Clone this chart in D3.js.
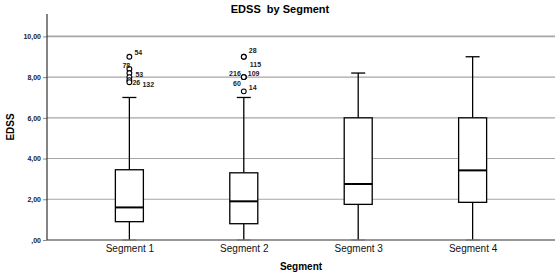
<!DOCTYPE html>
<html>
<head>
<meta charset="utf-8">
<script src="https://cdn.jsdelivr.net/npm/d3@7"></script>
<style>
  body { margin: 0; background: #fff; }
  text { font-family: "Liberation Sans", Arial, sans-serif; }
</style>
</head>
<body>
<svg id="chart" width="560" height="274"></svg>
<script>
// chart data
var segments = ['Segment 1', 'Segment 2', 'Segment 3', 'Segment 4'];
var lowWhisker = [0, 0, 0, 0];
var q1 = [0.9, 0.8, 1.75, 1.85];
var median = [1.6, 1.9, 2.75, 3.42];
var q3 = [3.45, 3.3, 6.0, 6.0];
var highWhisker = [7.0, 7.0, 8.2, 9.0];
var yTicks = [0, 2, 4, 6, 8, 10];

// outliers: segment, value, case id ('' = no label)
var outSegment = ['Segment 1', 'Segment 1', 'Segment 1', 'Segment 1', 'Segment 1', 'Segment 1',
  'Segment 2', 'Segment 2', 'Segment 2', 'Segment 2', 'Segment 2', 'Segment 2'];
var outValue = [9.0, 8.4, 8.2, 8.0, 7.85, 7.75,
  9.0, 9.0, 8.0, 8.0, 8.0, 7.3];
var outId = ['54', '78', '53', '', '26', '132',
  '28', '115', '216', '109', '60', '14'];

// label placement for the case ids (dx, dy, anchor)
var labelPos = [[5, -4, 'start'], [-7, -3, 'start'], [6, 2, 'start'], [0, 0, 'start'], [3, 2, 'start'], [13, 2, 'start'],
  [5, -6, 'start'], [6, 8, 'start'], [-3, -4, 'end'], [4, -4, 'start'], [-3, 6, 'end'], [5, -4, 'start']];

InitChart();

function InitChart() {
  var svg = d3.select('#chart'),
    MARGINS = { top: 14, right: 5, bottom: 34, left: 47 },
    WIDTH = 560,
    HEIGHT = 274;

  var xRange = d3.scalePoint()
    .domain(segments)
    .range([MARGINS.left, WIDTH - MARGINS.right])
    .padding(0.72);

  var yRange = d3.scaleLinear()
    .domain([0, 11.1])
    .range([HEIGHT - MARGINS.bottom, MARGINS.top]);

  // grid lines
  svg.append('g')
    .selectAll('line')
    .data(yTicks.filter(function(d) { return d > 0; }))
    .enter()
    .append('line')
    .attr('x1', MARGINS.left)
    .attr('x2', WIDTH - MARGINS.right)
    .attr('y1', function(d) { return yRange(d); })
    .attr('y2', function(d) { return yRange(d); })
    .attr('stroke', '#a6a6a6')
    .attr('stroke-width', function(d) { return d === 10 ? 1.6 : 1.1; });

  // y axis
  var yAxis = d3.axisLeft(yRange)
    .tickValues(yTicks)
    .tickSize(4)
    .tickPadding(2)
    .tickFormat(function(d) { return d === 0 ? ',00' : d.toFixed(2).replace('.', ','); });

  var gy = svg.append('g')
    .attr('transform', 'translate(' + MARGINS.left + ',0)')
    .call(yAxis);
  gy.select('.domain').remove();
  gy.selectAll('.tick line').attr('stroke', '#888');
  gy.selectAll('.tick text')
    .style('font-size', '7px')
    .style('font-weight', 'bold')
    .attr('fill', '#222');

  svg.append('line')
    .attr('x1', MARGINS.left).attr('x2', MARGINS.left)
    .attr('y1', MARGINS.top).attr('y2', HEIGHT - MARGINS.bottom)
    .attr('stroke', '#333').attr('stroke-width', 1.2);

  // x axis
  var xAxis = d3.axisBottom(xRange).tickSize(0).tickPadding(5);
  var gx = svg.append('g')
    .attr('transform', 'translate(0,' + (HEIGHT - MARGINS.bottom) + ')')
    .call(xAxis);
  gx.select('.domain').remove();
  gx.selectAll('.tick text')
    .style('font-size', '10px')
    .attr('fill', '#111');

  svg.append('line')
    .attr('x1', MARGINS.left).attr('x2', WIDTH - MARGINS.right)
    .attr('y1', HEIGHT - MARGINS.bottom).attr('y2', HEIGHT - MARGINS.bottom)
    .attr('stroke', '#333').attr('stroke-width', 1.2);

  // boxes
  var boxW = 28, capW = 14;
  var g = svg.append('g').selectAll('g')
    .data(segments)
    .enter()
    .append('g');

  g.append('line')
    .attr('x1', function(d) { return xRange(d); })
    .attr('x2', function(d) { return xRange(d); })
    .attr('y1', function(d, i) { return yRange(highWhisker[i]); })
    .attr('y2', function(d, i) { return yRange(q3[i]); })
    .attr('stroke', '#000').attr('stroke-width', 1.3);

  g.append('line')
    .attr('x1', function(d) { return xRange(d); })
    .attr('x2', function(d) { return xRange(d); })
    .attr('y1', function(d, i) { return yRange(q1[i]); })
    .attr('y2', function(d, i) { return yRange(lowWhisker[i]); })
    .attr('stroke', '#000').attr('stroke-width', 1.3);

  g.append('line')
    .attr('x1', function(d) { return xRange(d) - capW / 2; })
    .attr('x2', function(d) { return xRange(d) + capW / 2; })
    .attr('y1', function(d, i) { return yRange(highWhisker[i]); })
    .attr('y2', function(d, i) { return yRange(highWhisker[i]); })
    .attr('stroke', '#000').attr('stroke-width', 1.3);

  g.append('line')
    .attr('x1', function(d) { return xRange(d) - capW / 2; })
    .attr('x2', function(d) { return xRange(d) + capW / 2; })
    .attr('y1', function(d, i) { return yRange(lowWhisker[i]); })
    .attr('y2', function(d, i) { return yRange(lowWhisker[i]); })
    .attr('stroke', '#777').attr('stroke-width', 1.3);

  g.append('rect')
    .attr('x', function(d) { return xRange(d) - boxW / 2; })
    .attr('y', function(d, i) { return yRange(q3[i]); })
    .attr('width', boxW)
    .attr('height', function(d, i) { return yRange(q1[i]) - yRange(q3[i]); })
    .attr('fill', '#fff')
    .attr('stroke', '#000').attr('stroke-width', 1.3);

  g.append('line')
    .attr('x1', function(d) { return xRange(d) - boxW / 2; })
    .attr('x2', function(d) { return xRange(d) + boxW / 2; })
    .attr('y1', function(d, i) { return yRange(median[i]); })
    .attr('y2', function(d, i) { return yRange(median[i]); })
    .attr('stroke', '#000').attr('stroke-width', 2);

  // outliers
  var idx = d3.range(outValue.length);
  svg.append('g').selectAll('circle')
    .data(idx)
    .enter()
    .append('circle')
    .attr('cx', function(i) { return xRange(outSegment[i]); })
    .attr('cy', function(i) { return yRange(outValue[i]); })
    .attr('r', 2.4)
    .attr('fill', '#fff')
    .attr('stroke', '#000').attr('stroke-width', 1.1);

  svg.append('g').selectAll('text')
    .data(idx.filter(function(i) { return outId[i] !== ''; }))
    .enter()
    .append('text')
    .attr('x', function(i) { return xRange(outSegment[i]) + labelPos[i][0]; })
    .attr('y', function(i) { return yRange(outValue[i]) + labelPos[i][1]; })
    .attr('dy', '0.35em')
    .attr('text-anchor', function(i) { return labelPos[i][2]; })
    .style('font-size', '7px')
    .style('font-weight', 'bold')
    .attr('fill', '#222')
    .text(function(i) { return outId[i]; });

  // titles
  svg.append('text')
    .attr('x', 280).attr('y', 13)
    .attr('text-anchor', 'middle')
    .style('font-size', '11px').style('font-weight', 'bold')
    .style('white-space', 'pre')
    .attr('xml:space', 'preserve')
    .text('EDSS  by Segment');

  svg.append('text')
    .attr('x', (MARGINS.left + WIDTH - MARGINS.right) / 2)
    .attr('y', 270)
    .attr('text-anchor', 'middle')
    .style('font-size', '10px').style('font-weight', 'bold')
    .text('Segment');

  svg.append('text')
    .attr('transform', 'translate(14,127) rotate(-90)')
    .attr('text-anchor', 'middle')
    .style('font-size', '10px').style('font-weight', 'bold')
    .text('EDSS');
}
</script>
</body>
</html>
